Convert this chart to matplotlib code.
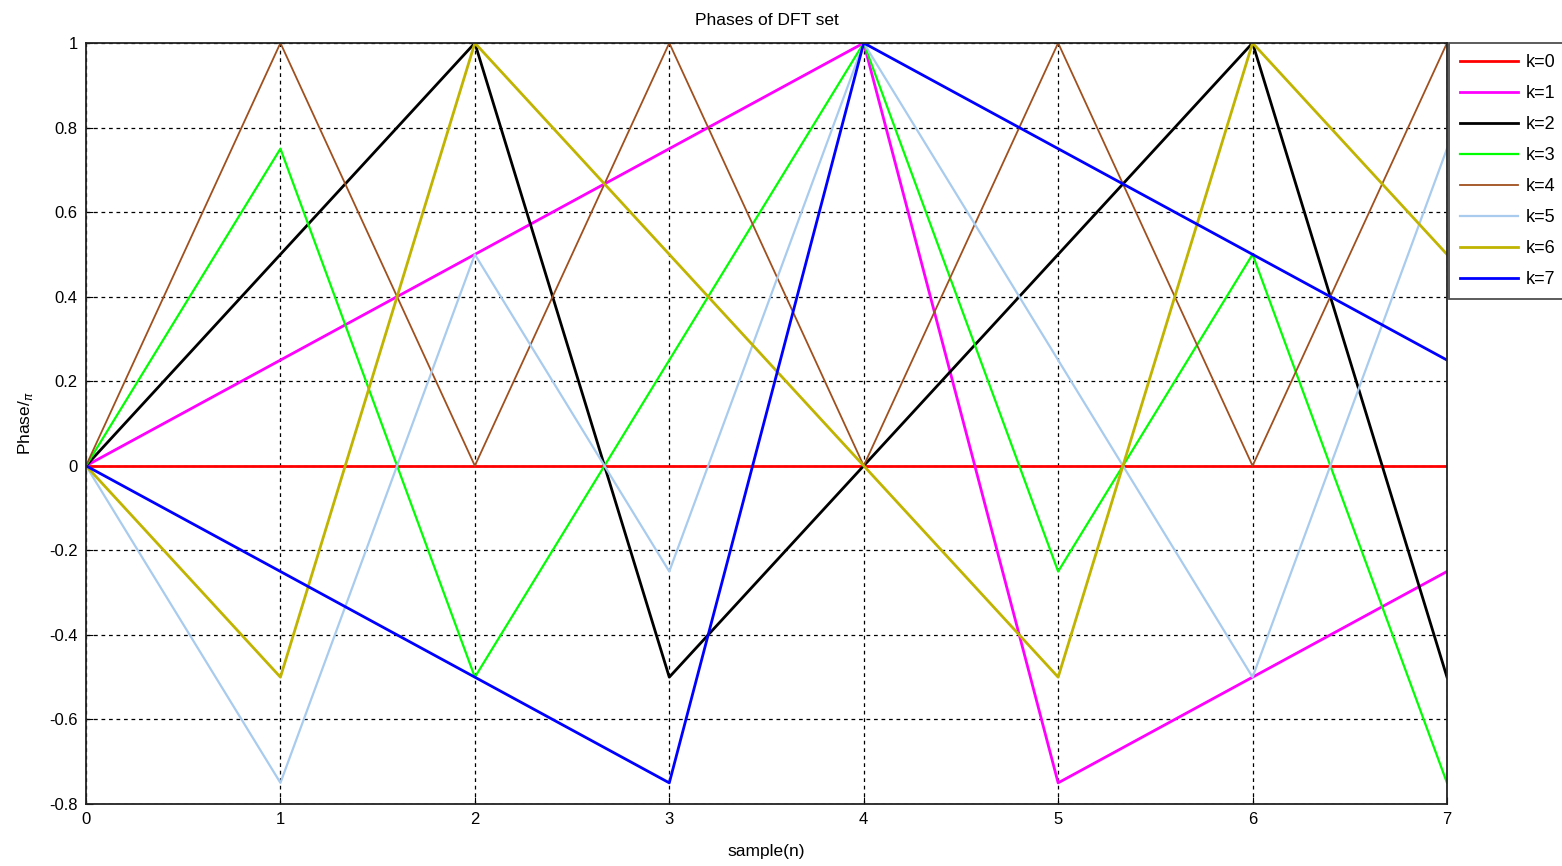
import matplotlib
matplotlib.use("Agg")
import matplotlib.pyplot as plt

plt.rcParams['font.family'] = ['Liberation Sans', 'DejaVu Sans']

samples = [0, 1, 2, 3, 4, 5, 6, 7]

# Phase of exp(j*2*pi*k*n/8), expressed in units of pi
phase_k0 = [0, 0, 0, 0, 0, 0, 0, 0]
phase_k1 = [0, 0.25, 0.5, 0.75, 1, -0.75, -0.5, -0.25]
phase_k2 = [0, 0.5, 1, -0.5, 0, 0.5, 1, -0.5]
phase_k3 = [0, 0.75, -0.5, 0.25, 1, -0.25, 0.5, -0.75]
phase_k4 = [0, 1, 0, 1, 0, 1, 0, 1]
phase_k5 = [0, -0.75, 0.5, -0.25, 1, 0.25, -0.5, 0.75]
phase_k6 = [0, -0.5, 1, 0.5, 0, -0.5, 1, 0.5]
phase_k7 = [0, -0.25, -0.5, -0.75, 1, 0.75, 0.5, 0.25]

series = [phase_k0, phase_k1, phase_k2, phase_k3,
          phase_k4, phase_k5, phase_k6, phase_k7]
labels = ['k=0', 'k=1', 'k=2', 'k=3', 'k=4', 'k=5', 'k=6', 'k=7']
colors = ['#ff0000', '#ff00ff', '#000000', '#00ff00',
          '#a0501e', '#a8cbee', '#c0b400', '#0000ff']
widths = [2.0, 2.0, 2.0, 1.6, 1.3, 1.6, 2.0, 2.0]

yticks = [-0.8, -0.6, -0.4, -0.2, 0, 0.2, 0.4, 0.6, 0.8, 1]
ytick_labels = ['-0.8', '-0.6', '-0.4', '-0.2', '0', '0.2', '0.4', '0.6', '0.8', '1']

fig = plt.figure(figsize=(15.62, 8.66), dpi=100)
ax = fig.add_axes([86 / 1562, 62 / 866, (1447 - 86) / 1562, (804 - 43) / 866])

for vals, lab, col, lw in zip(series, labels, colors, widths):
    ax.plot(samples, vals, color=col, lw=lw, label=lab)

ax.set_xlim(0, 7)
ax.set_ylim(-0.8, 1)
ax.set_xticks(samples)
ax.set_yticks(yticks)
ax.set_yticklabels(ytick_labels)
ax.grid(True, color='black', linestyle=(0, (3, 3)), linewidth=0.9)
ax.tick_params(direction='in', labelsize=12, length=5, pad=6)
for sp in ax.spines.values():
    sp.set_linewidth(1.3)
    sp.set_color('#222222')

ax.set_title('Phases of DFT set', fontsize=12.5, pad=13)
ax.set_xlabel('sample(n)', fontsize=12.5, labelpad=12)
ax.set_ylabel(r'Phase/$_{\pi}$', fontsize=12.5, labelpad=10)

leg = ax.legend(loc='upper left', bbox_to_anchor=(1.0015, 1.0), fontsize=13,
                frameon=True, fancybox=False, borderaxespad=0,
                handlelength=3.2, handletextpad=0.45, labelspacing=0.78,
                borderpad=0.6)
leg.get_frame().set_edgecolor('#222222')
leg.get_frame().set_linewidth(1.3)

fig.savefig('out.png', dpi=100)
